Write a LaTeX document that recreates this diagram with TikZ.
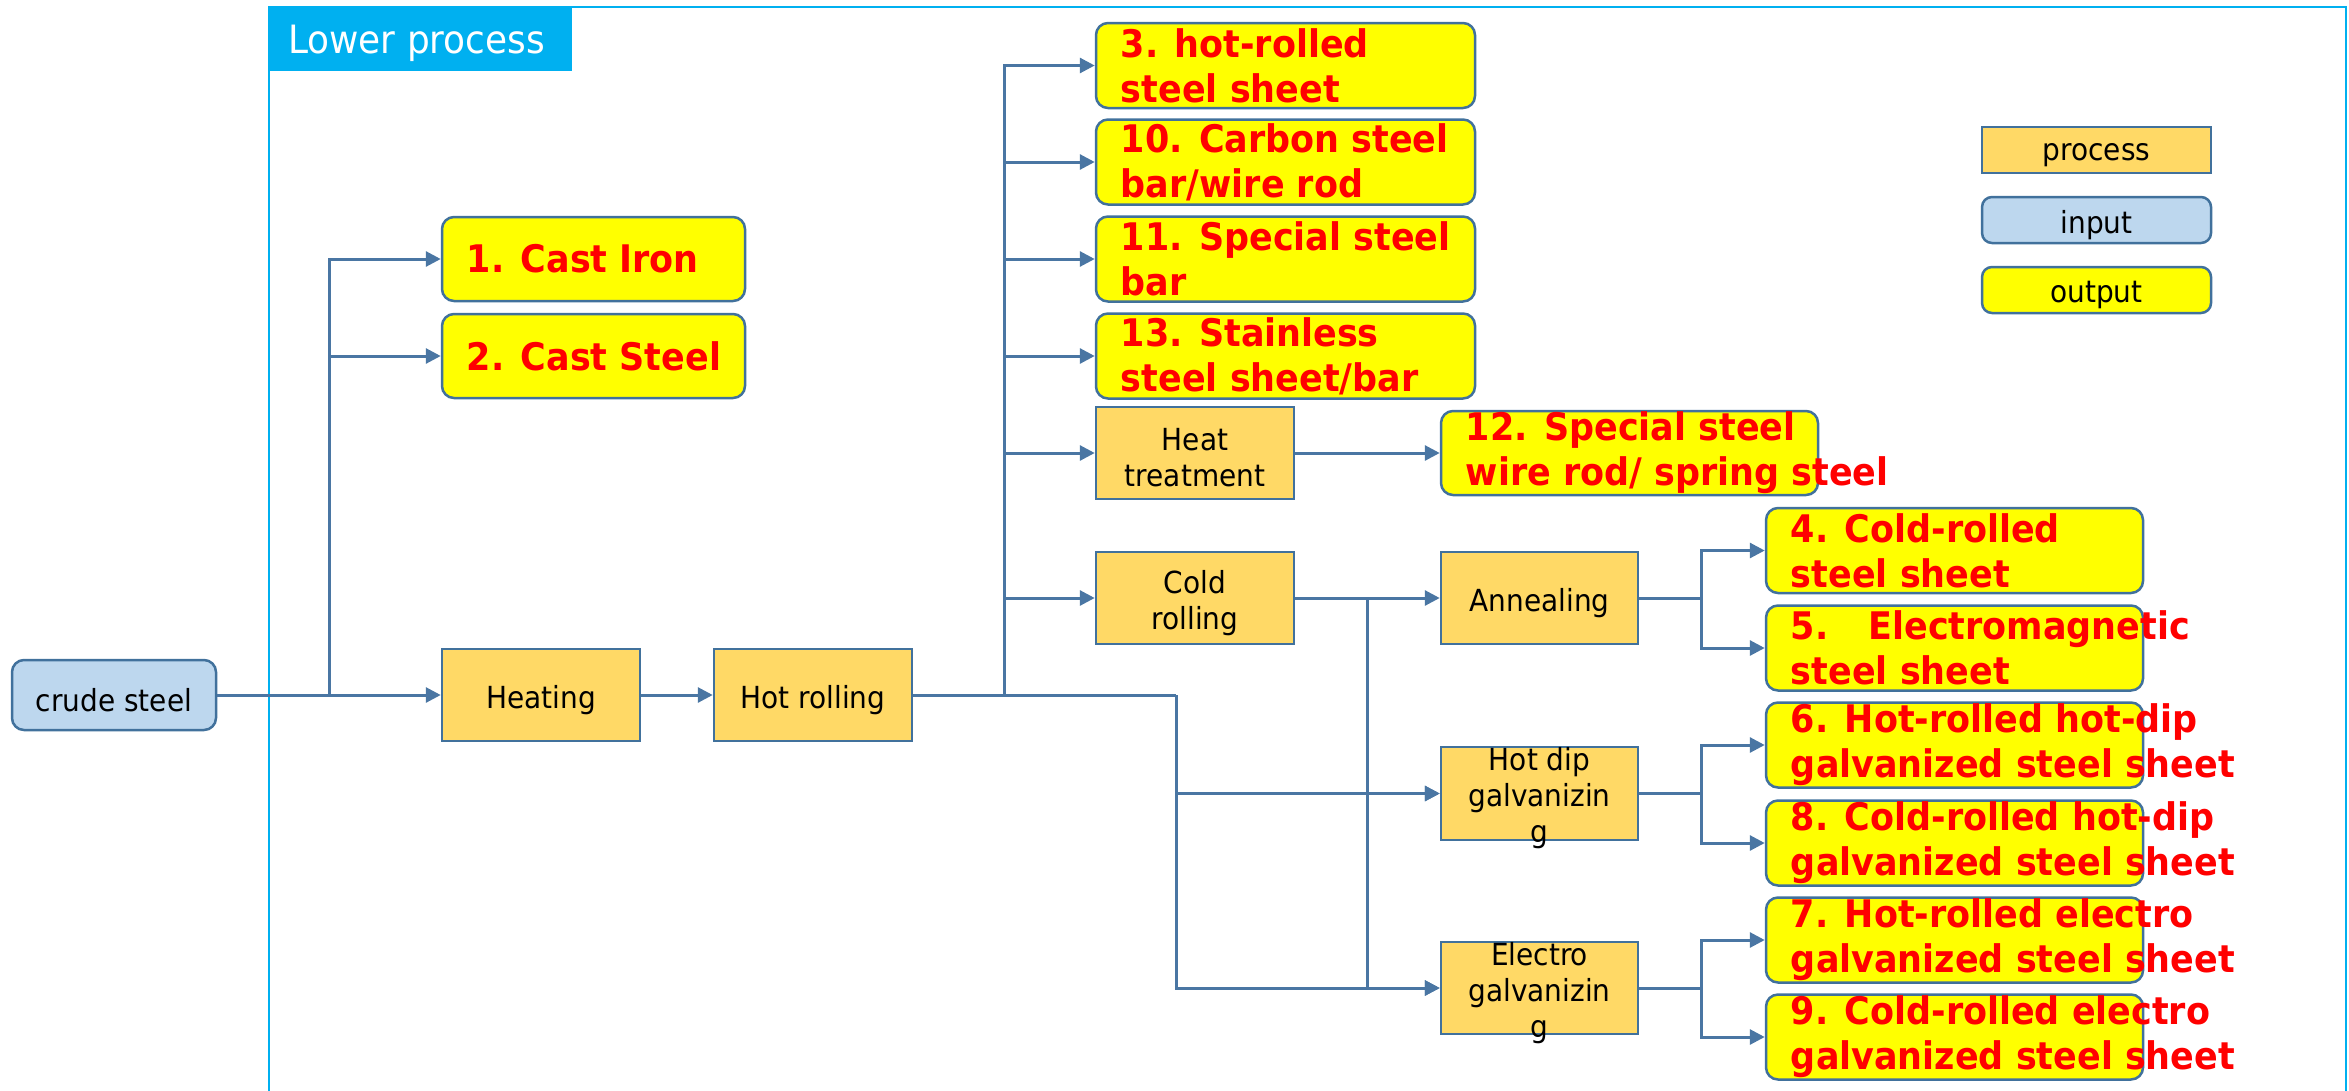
\documentclass[tikz,border=0pt]{standalone}
\usepackage{fontspec}
\setmainfont{DejaVu Sans}
\newfontfamily\diagfont[FakeStretch=0.92]{DejaVu Sans}
\usetikzlibrary{arrows.meta}

\definecolor{procfill}{RGB}{255,217,102}
\definecolor{infill}{RGB}{189,215,238}
\definecolor{outfill}{RGB}{255,255,0}
\definecolor{edgeblue}{RGB}{65,113,156}
\definecolor{wireblue}{RGB}{74,118,163}
\definecolor{framecyan}{RGB}{0,176,240}
\definecolor{outred}{RGB}{255,0,0}

\begin{document}
\begin{tikzpicture}[x=1pt,y=-1pt,
  boxsize/.style 2 args={minimum width=#1pt, minimum height=#2pt},
  proc/.style={draw=edgeblue, line width=2.5pt, fill=procfill, inner sep=0pt},
  inbox/.style={draw=edgeblue, line width=2.5pt, fill=infill, rounded corners=12pt, inner sep=0pt},
  outbox/.style={draw=edgeblue, line width=2.5pt, fill=outfill, rounded corners=12pt, inner sep=0pt},
  ptext/.style={font=\diagfont\fontsize{30.4}{36}\selectfont, align=center, inner sep=0pt, yshift=-5pt},
  otext/.style={font=\diagfont\bfseries\fontsize{38}{45}\selectfont, text=outred, align=left, inner sep=0pt, anchor=west},
  wire/.style={draw=wireblue, line width=3pt},
  arr/.style={wire, -{Triangle[length=15pt,width=15pt]}},
]
\useasboundingbox (0,0) rectangle (2349,1090);

% section frame and its title tab
\draw[framecyan, line width=2pt] (269,1092) -- (269,7) -- (2346,7) -- (2346,1092);
\fill[framecyan] (268,6) rectangle (572,71);
\node[font=\diagfont\fontsize{39}{45}\selectfont, text=white, anchor=base west, inner sep=0pt] (title) at (288,53) {Lower process};

% input and main line processes
\node[inbox, boxsize={204}{70}] (crude) at (114,695) {};
\node[ptext] (crude-t) at (crude) {crude steel};
\node[proc, boxsize={198}{92}] (heat) at (541,695) {};
\node[ptext] (heat-t) at (heat) {Heating};
\node[proc, boxsize={198}{92}] (hot) at (813,695) {};
\node[ptext] (hot-t) at (hot) {Hot rolling};

% casting products
\node[outbox, boxsize={303}{84}] (o1) at (593.5,259) {};
\node[otext] (o1-t) at ([xshift=26pt]o1.west) {1. Cast Iron};
\node[outbox, boxsize={303}{84}] (o2) at (593.5,356) {};
\node[otext] (o2-t) at ([xshift=26pt]o2.west) {2. Cast Steel};

% products straight from hot rolling
\node[outbox, boxsize={379}{85}] (o3) at (1285.5,65.5) {};
\node[otext] (o3-t) at ([xshift=26pt]o3.west) {3. hot-rolled\\steel sheet};
\node[outbox, boxsize={379}{85}] (o10) at (1285.5,162) {};
\node[otext] (o10-t) at ([xshift=26pt]o10.west) {10. Carbon steel\\bar/wire rod};
\node[outbox, boxsize={379}{85}] (o11) at (1285.5,259) {};
\node[otext] (o11-t) at ([xshift=26pt]o11.west) {11. Special steel\\bar};
\node[outbox, boxsize={379}{85}] (o13) at (1285.5,356) {};
\node[otext] (o13-t) at ([xshift=26pt]o13.west) {13. Stainless\\steel sheet/bar};

% secondary processes
\node[proc, boxsize={198}{92}] (heattr) at (1195,453) {};
\node[ptext] (heattr-t) at (heattr) {Heat\\treatment};
\node[proc, boxsize={198}{92}] (cold) at (1195,598) {};
\node[ptext] (cold-t) at (cold) {Cold\\rolling};
\node[outbox, boxsize={377}{84}] (o12) at (1629.5,453) {};
\node[otext] (o12-t) at ([xshift=26pt]o12.west) {12. Special steel\\wire rod/ spring steel};

\node[proc, boxsize={197}{92}] (anneal) at (1539.5,598) {};
\node[ptext] (anneal-t) at (anneal) {Annealing};
\node[proc, boxsize={197}{93}] (hotdip) at (1539.5,793.5) {};
\node[ptext] (hotdip-t) at (hotdip) {Hot dip\\galvanizin\\g};
\node[proc, boxsize={197}{92}] (electro) at (1539.5,988) {};
\node[ptext] (electro-t) at (electro) {Electro\\galvanizin\\g};

% sheet products
\node[outbox, boxsize={377}{85}] (o4) at (1954.5,550.5) {};
\node[otext] (o4-t) at ([xshift=26pt]o4.west) {4. Cold-rolled\\steel sheet};
\node[outbox, boxsize={377}{85}] (o5) at (1954.5,648) {};
\node[otext] (o5-t) at ([xshift=26pt]o5.west) {5.\hspace{1.05em}Electromagnetic\\steel sheet};
\node[outbox, boxsize={377}{85}] (o6) at (1954.5,745) {};
\node[otext] (o6-t) at ([xshift=26pt]o6.west) {6. Hot-rolled hot-dip\\galvanized steel sheet};
\node[outbox, boxsize={377}{85}] (o8) at (1954.5,843) {};
\node[otext] (o8-t) at ([xshift=26pt]o8.west) {8. Cold-rolled hot-dip\\galvanized steel sheet};
\node[outbox, boxsize={377}{85}] (o7) at (1954.5,940) {};
\node[otext] (o7-t) at ([xshift=26pt]o7.west) {7. Hot-rolled electro\\galvanized steel sheet};
\node[outbox, boxsize={377}{85}] (o9) at (1954.5,1037) {};
\node[otext] (o9-t) at ([xshift=26pt]o9.west) {9. Cold-rolled electro\\galvanized steel sheet};

% legend
\node[proc, boxsize={229}{46}] (lg-proc) at (2096.5,150) {};
\node[ptext] (lg-proc-t) at (lg-proc) {process};
\node[inbox, rounded corners=10pt, boxsize={229}{46}] (lg-in) at (2096.5,220) {};
\node[ptext] (lg-in-t) at (lg-in) {input};
\node[outbox, rounded corners=10pt, boxsize={229}{46}] (lg-out) at (2096.5,290) {};
\node[ptext] (lg-out-t) at (lg-out) {output};

% junction points of the connectors
\coordinate (j1) at (329,695);
\coordinate (j2) at (1004,695);
\coordinate (j3) at (1176,695);
\coordinate (j4) at (1367,598);
\coordinate (j5) at (1701,598);
\coordinate (j6) at (1701,793.5);
\coordinate (j7) at (1701,988);

% connectors
\draw[arr] (crude.east) -- (heat.west);
\draw[arr] (j1) |- (o1.west);
\draw[arr] (j1) |- (o2.west);
\draw[arr] (heat.east) -- (hot.west);

\draw[wire] (hot.east) -- (j3);
\draw[arr] (j3) |- (electro.west);
\draw[arr] (j3 |- hotdip.west) -- (hotdip.west);

\draw[arr] (j2) |- (o3.west);
\draw[arr] (j2) |- (o10.west);
\draw[arr] (j2) |- (o11.west);
\draw[arr] (j2) |- (o13.west);
\draw[arr] (j2) |- (heattr.west);
\draw[arr] (j2) |- (cold.west);

\draw[arr] (heattr.east) -- (o12.west);
\draw[arr] (cold.east) -- (anneal.west);
\draw[arr] (j4) |- (hotdip.west);
\draw[arr] (j4) |- (electro.west);

\draw[wire] (anneal.east) -- (j5);
\draw[arr] (j5) |- (o4.west);
\draw[arr] (j5) |- (o5.west);
\draw[wire] (hotdip.east) -- (j6);
\draw[arr] (j6) |- (o6.west);
\draw[arr] (j6) |- (o8.west);
\draw[wire] (electro.east) -- (j7);
\draw[arr] (j7) |- (o7.west);
\draw[arr] (j7) |- (o9.west);
\end{tikzpicture}
\end{document}
